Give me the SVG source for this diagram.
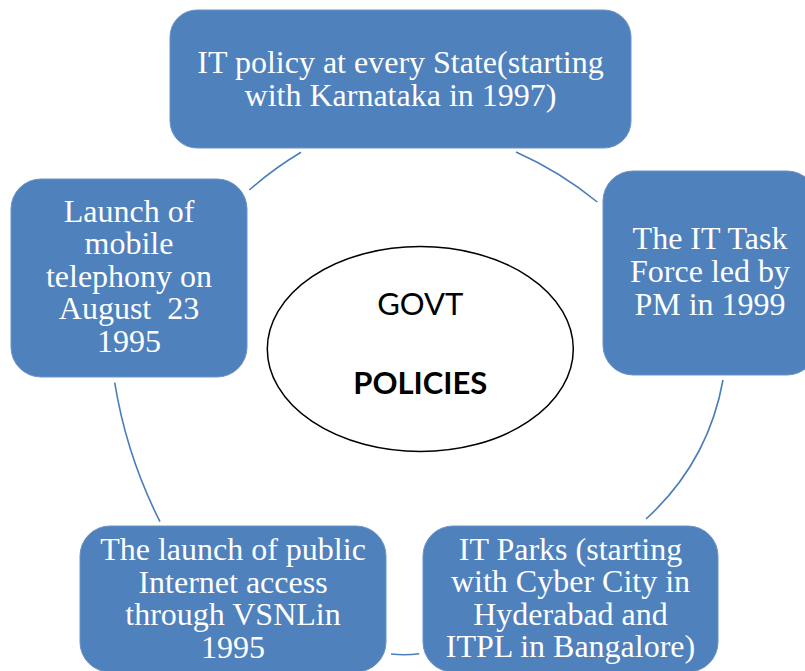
<svg xmlns="http://www.w3.org/2000/svg" width="805" height="671" viewBox="0 0 805 671">
  <style>
    .node rect { fill: #4f81bd; stroke: #6b93c6; stroke-width: 1; }
    .node text { fill: #ffffff; font-family: "Liberation Serif", "Times New Roman", serif; font-size: 32px; text-anchor: middle; white-space: pre; }
    .link { fill: none; stroke: #4a7ebb; stroke-width: 1.6; }
    .hub ellipse { fill: #ffffff; stroke: #000000; stroke-width: 1.5; }
    .hub text { fill: #000000; font-family: Lato, "Liberation Sans", sans-serif; font-size: 31px; text-anchor: middle; }
  </style>
  <rect width="805" height="671" fill="#ffffff"/>

  <!-- cycle connectors -->
  <g id="connectors">
    <path class="link" d="M249.3,190 Q273.4,168.8 301,152.3"/>
    <path class="link" d="M516,152 Q560,171.6 597.3,202"/>
    <path class="link" d="M723,380 Q708.1,462.5 646,519"/>
    <path class="link" d="M419.3,653.7 Q405,655.5 391,654"/>
    <path class="link" d="M160,521.7 Q126.7,456.1 114.7,382.7"/>
  </g>

  <!-- central hub -->
  <g id="hub" class="hub">
    <ellipse cx="420.3" cy="349" rx="153" ry="102.5"/>
    <text x="420.3" y="315">GOVT</text>
    <text x="420.3" y="394" font-weight="bold">POLICIES</text>
  </g>

  <g id="node-it-policy" class="node">
    <rect x="170" y="10" width="461" height="138" rx="27" ry="27"/>
    <text x="400.5" y="73">IT policy at every State(starting</text>
    <text x="400.5" y="106">with Karnataka in 1997)</text>
  </g>

  <g id="node-task-force" class="node">
    <rect x="603" y="171" width="214" height="204" rx="30" ry="30"/>
    <text x="710" y="249">The IT Task</text>
    <text x="710" y="282">Force led by</text>
    <text x="710" y="315">PM in 1999</text>
  </g>

  <g id="node-it-parks" class="node">
    <rect x="423" y="526" width="295" height="146" rx="30" ry="30"/>
    <text x="570.5" y="560">IT Parks (starting</text>
    <text x="570.5" y="592">with Cyber City in</text>
    <text x="570.5" y="625">Hyderabad and</text>
    <text x="570.5" y="657">ITPL in Bangalore)</text>
  </g>

  <g id="node-internet" class="node">
    <rect x="80" y="526" width="306" height="146" rx="30" ry="30"/>
    <text x="233" y="559.5">The launch of public</text>
    <text x="233" y="592.5">Internet access</text>
    <text x="233" y="625">through VSNLin</text>
    <text x="233" y="658">1995</text>
  </g>

  <g id="node-mobile" class="node">
    <rect x="11" y="179" width="236" height="198" rx="30" ry="30"/>
    <text x="129" y="221.5">Launch of</text>
    <text x="129" y="254">mobile</text>
    <text x="129" y="286.5">telephony on</text>
    <text x="129" y="319" xml:space="preserve">August  23</text>
    <text x="129" y="352">1995</text>
  </g>
</svg>
